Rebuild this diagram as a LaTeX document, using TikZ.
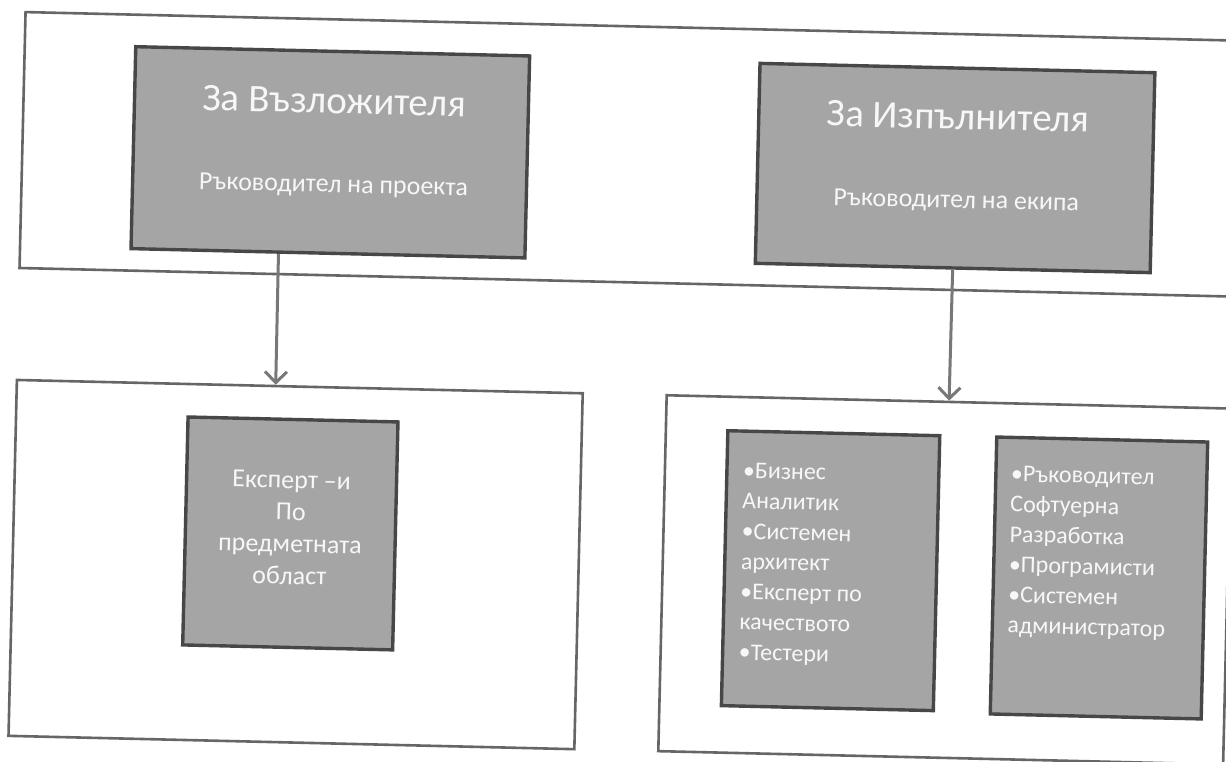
\documentclass[tikz,border=0pt]{standalone}
\usepackage{fontspec}
\setmainfont{Carlito}
\usetikzlibrary{arrows.meta,calc}

\definecolor{boxfill}{HTML}{A5A5A5}
\definecolor{boxline}{HTML}{474747}
\definecolor{frameline}{HTML}{666666}
\definecolor{linkline}{HTML}{787878}
\definecolor{boxtext}{HTML}{F7F7F7}

\tikzset{
  frame/.style={draw=frameline, line width=2.6pt, inner sep=0pt},
  role/.style={draw=boxline, fill=boxfill, line width=3.4pt, inner sep=0pt},
  headtext/.style={text=boxtext, inner sep=0pt, anchor=base,
    font=\fontsize{39}{46}\selectfont},
  subtext/.style={text=boxtext, inner sep=0pt, anchor=base,
    font=\fontsize{26}{31}\selectfont},
  itemtext/.style={text=boxtext, inner sep=0pt,
    font=\fontsize{24}{30.3}\selectfont},
  expertfont/.style={text=boxtext, inner sep=0pt,
    font=\fontsize{26}{32}\selectfont},
  link/.style={draw=linkline, line width=3pt,
    -{Straight Barb[length=11pt, width=22pt, line width=3pt]}},
}

\begin{document}
\begin{tikzpicture}[x=1pt, y=-1pt]
  \fill[white] (0,0) rectangle (1226,762);
  \clip (0,0) rectangle (1226,762);

  \begin{scope}[rotate around={-1.35:(613,381)}, transform shape]
    % upper band holding the two lead roles
    \node[frame, minimum width=1245pt, minimum height=256pt] (band) at (639.5,154) {};

    \node[role, minimum width=394pt, minimum height=202pt] (client) at (325,159) {};
    \node[headtext] (clientHead) at (328,120) {За Възложителя};
    \node[subtext]  (clientSub)  at (329,199) {Ръководител на проекта};

    \node[role, minimum width=395pt, minimum height=200pt] (contractor) at (950,160) {};
    \node[headtext] (contractorHead) at (952,121) {За Изпълнителя};
    \node[subtext]  (contractorSub)  at (952,200) {Ръководител на екипа};

    % lower groups
    \node[frame, minimum width=566pt, minimum height=356pt] (clientGroup) at (300,572) {};
    \node[frame, minimum width=565pt, minimum height=356pt] (teamGroup) at (949.5,572) {};

    \node[role, minimum width=210pt, minimum height=228pt] (experts) at (294,541) {};
    \node[expertfont, align=center, anchor=north] (expertsText) at (294,479)
      {Експерт –и\\По\\предметната\\област};

    \node[role, minimum width=212pt, minimum height=275pt] (analysts) at (835,565.5) {};
    \node[itemtext, align=left, anchor=north west] (analystsText) at (745,459.5)
      {•Бизнес\\Аналитик\\•Системен\\архитект\\•Експерт по\\качеството\\•Тестери};

    \node[role, minimum width=211pt, minimum height=277pt] (developers) at (1103.5,566.5) {};
    \node[itemtext, align=left, anchor=north west] (developersText) at (1013,456.5)
      {•Ръководител\\Софтуерна\\Разработка\\•Програмисти\\•Системен\\администратор};

    % reporting lines
    \draw[link] ($(client.south west)!0.3756!(client.south east)$)
             -- ($(clientGroup.north west)!0.4576!(clientGroup.north east)$);
    \draw[link] (contractor.south) -- (teamGroup.north);
  \end{scope}
\end{tikzpicture}
\end{document}
